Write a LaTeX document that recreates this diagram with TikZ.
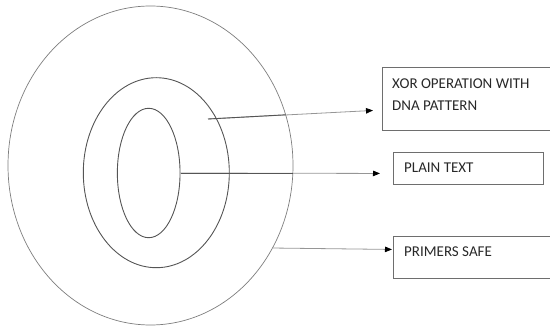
\documentclass[tikz,border=0pt]{standalone}
\usepackage{fontspec}
\setmainfont{Carlito}
\usetikzlibrary{shapes.geometric, arrows.meta, positioning}
\definecolor{ringdark}{RGB}{85, 85, 85}
\definecolor{ringlight}{RGB}{125, 125, 125}
\definecolor{linegray}{RGB}{150, 150, 150}
\definecolor{boxgray}{RGB}{110, 110, 110}
\definecolor{textgray}{RGB}{40, 40, 40}

\begin{document}
\begin{tikzpicture}[x=1pt, y=-1pt,
  ring/.style={draw, ellipse, inner sep=0pt},
  box/.style={draw=boxgray, line width=0.9pt, rectangle, inner sep=0pt, anchor=north west},
  lbl/.style={font=\fontsize{15}{22}\selectfont, text=textgray, inner sep=0pt, anchor=north west, align=left},
  conn/.style={-{Triangle[length=7pt, width=5.5pt, color=black]}, draw=linegray, line width=0.8pt},
  darkpart/.style={draw=ringdark, line width=0.9pt}]
  \useasboundingbox (0, 0) rectangle (550, 326);

  % Rings
  \node[ring, draw=ringlight, line width=0.7pt, minimum width=285pt, minimum height=319pt] (outer) at (150.5, 165.5) {};
  \node[ring, draw=ringdark, line width=0.9pt, minimum width=146pt, minimum height=190pt] (middle) at (156.3, 172.7) {};
  \node[ring, draw=ringdark, line width=0.9pt, minimum width=62.7pt, minimum height=129.4pt] (inner) at (148.7, 173) {};

  % Boxes
  \node[box, minimum width=175pt, minimum height=63pt] (xorbox) at (382, 67) {};
  \node[box, minimum width=150pt, minimum height=32pt] (plainbox) at (393, 152) {};
  \node[box, minimum width=165pt, minimum height=42pt] (primerbox) at (393, 236) {};

  \node[lbl, below right=12pt and 10pt of xorbox.north west] (xortext) {XOR OPERATION WITH\\DNA PATTERN};
  \node[lbl, below right=11pt and 11pt of plainbox.north west] (plaintext) {PLAIN TEXT};
  \node[lbl, below right=11pt and 11pt of primerbox.north west] (primertext) {PRIMERS SAFE};

  % Arrows
  \coordinate (xorstart) at (208, 119);
  \coordinate (xorcross) at (285.6, 114.8);
  \draw[conn] (xorstart) -- ([shift={(-9pt, -11.5pt)}]xorbox.west);
  \draw[darkpart] (xorstart) -- (xorcross);

  \draw[conn] (inner.east) -- ([shift={(-13pt, -5pt)}]plainbox.west);
  \draw[darkpart] (inner.east) -- (inner.east -| outer.east);

  \draw[conn] (outer.-34.5) -- ([shift={(-1pt, 8pt)}]primerbox.west);
\end{tikzpicture}
\end{document}
